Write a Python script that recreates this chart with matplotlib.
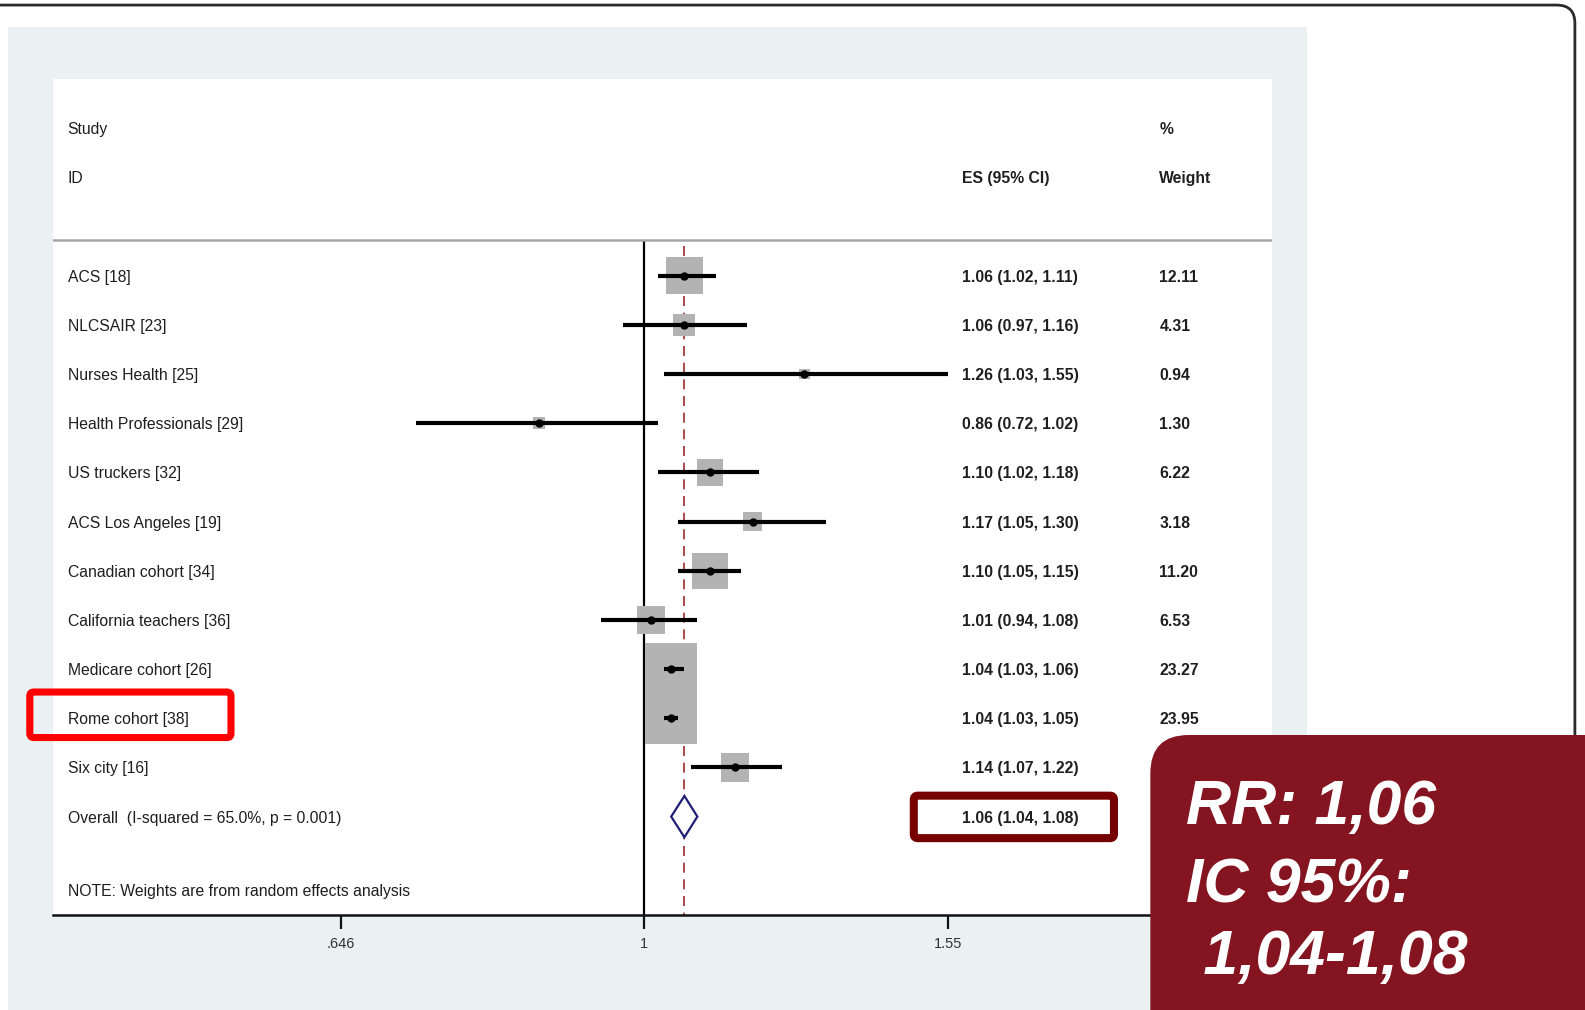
import matplotlib
matplotlib.use('Agg')
import matplotlib.pyplot as plt
import matplotlib.transforms as mtransforms
from matplotlib.patches import FancyBboxPatch, Rectangle, Polygon
import numpy as np

# ---------------- data ----------------
studies = ["ACS [18]", "NLCSAIR [23]", "Nurses Health [25]", "Health Professionals [29]",
           "US truckers [32]", "ACS Los Angeles [19]", "Canadian cohort [34]",
           "California teachers [36]", "Medicare cohort [26]", "Rome cohort [38]", "Six city [16]"]
es = [1.06, 1.06, 1.26, 0.86, 1.10, 1.17, 1.10, 1.01, 1.04, 1.04, 1.14]
ci_low = [1.02, 0.97, 1.03, 0.72, 1.02, 1.05, 1.05, 0.94, 1.03, 1.03, 1.07]
ci_high = [1.11, 1.16, 1.55, 1.02, 1.18, 1.30, 1.15, 1.08, 1.06, 1.05, 1.22]
weights = [12.11, 4.31, 0.94, 1.30, 6.22, 3.18, 11.20, 6.53, 23.27, 23.95, 6.99]
overall_es = 1.06
overall_low = 1.04
overall_high = 1.08
overall_label = "Overall  (I-squared = 65.0%, p = 0.001)"
note_text = "NOTE: Weights are from random effects analysis"
xticks = [0.646, 1, 1.55]
xticklabels = [".646", "1", "1.55"]
callout_lines = ["RR: 1,06", "IC 95%:", " 1,04-1,08"]

FONT = ['Liberation Sans', 'DejaVu Sans']
plt.rcParams['font.family'] = FONT

W, H = 1585, 1010
fig = plt.figure(figsize=(W / 100, H / 100), dpi=100, facecolor='white')

# reference pixel grid (1568 x 999)
RW, RH = 1568, 999

# ---------- background layer ----------
bg = fig.add_axes([0, 0, 1, 1], zorder=0)
bg.set_xlim(0, RW)
bg.set_ylim(RH, 0)
bg.axis('off')
bg.add_patch(Rectangle((8, 27), 1293 - 8, RH - 27 + 10, facecolor='#e9f1f3', edgecolor='none'))
bg.add_patch(FancyBboxPatch((-40, 5), 1558 + 40, 1200,
                            boxstyle='round,pad=0,rounding_size=18',
                            facecolor='none', edgecolor='#2b2b2b', linewidth=2.0))

# ---------- main forest plot ----------
left, right, top, bottom = 52, 1258, 78, 905
ax = fig.add_axes([left / RW, 1 - bottom / RH, (right - left) / RW, (bottom - top) / RH], zorder=1)
ax.set_facecolor('white')
ax.set_xscale('log')
ax.set_xlim(0.4266, 2.470)
ax.set_ylim(13.0, -4.0)

n = len(studies)
rows = np.arange(n)
overall_row = n
note_row = 12.49

# boxes (area proportional to weight)
ax.scatter(es, rows, s=[59.3 * w for w in weights], marker='s', color='#b3b3b3',
           edgecolors='none', zorder=2)
# confidence intervals
ax.hlines(rows, ci_low, ci_high, color='black', linewidth=3.0, zorder=3)
# point estimates
ax.plot(es, rows, 'o', color='black', markersize=5.0, zorder=4)

# reference lines
ax.vlines(1, -0.73, 13.0, color='black', linewidth=1.6, zorder=1)
ax.vlines(overall_es, -0.6, 13.0, color='#9e2a2f', linewidth=1.2,
          linestyles=(0, (6, 4)), zorder=1.5)
ax.axhline(-0.73, color='#a5a5a5', linewidth=1.8, zorder=1)

# overall diamond
dh = 0.42
diamond = Polygon([(overall_low, overall_row), (overall_es, overall_row - dh),
                   (overall_high, overall_row), (overall_es, overall_row + dh)],
                  closed=True, facecolor='white', edgecolor='#1f1f78', linewidth=1.6, zorder=5)
ax.add_patch(diamond)

# text columns
tr = mtransforms.blended_transform_factory(ax.transAxes, ax.transData)
x_lab, x_es, x_w = 0.0124, 0.7463, 0.9080
fs = 11.3
tcol = '#1e1e1e'
va = 'center_baseline'
ax.text(x_lab, -3, "Study", transform=tr, fontsize=fs, va=va, color=tcol)
ax.text(x_lab, -2, "ID", transform=tr, fontsize=fs, va=va, color=tcol)
ax.text(x_es, -2, "ES (95% CI)", transform=tr, fontsize=fs, va=va, color=tcol, fontweight='bold')
ax.text(x_w, -3, "%", transform=tr, fontsize=fs, va=va, color=tcol, fontweight='bold')
ax.text(x_w, -2, "Weight", transform=tr, fontsize=fs, va=va, color=tcol, fontweight='bold')

for i in range(n):
    ax.text(x_lab, rows[i], studies[i], transform=tr, fontsize=fs, va=va, color=tcol)
    ax.text(x_es, rows[i], f"{es[i]:.2f} ({ci_low[i]:.2f}, {ci_high[i]:.2f})", transform=tr,
            fontsize=fs, va=va, color=tcol, fontweight='bold')
    ax.text(x_w, rows[i], f"{weights[i]:.2f}", transform=tr, fontsize=fs, va=va,
            color=tcol, fontweight='bold')

ax.text(x_lab, overall_row, overall_label, transform=tr, fontsize=fs, va=va, color=tcol)
ax.text(x_es, overall_row, f"{overall_es:.2f} ({overall_low:.2f}, {overall_high:.2f})", transform=tr,
        fontsize=fs, va=va, color=tcol, fontweight='bold')
ax.text(x_lab, note_row, note_text, transform=tr, fontsize=fs, va=va, color=tcol)

# axes styling
for sp in ['top', 'left', 'right']:
    ax.spines[sp].set_visible(False)
ax.spines['bottom'].set_linewidth(1.8)
ax.spines['bottom'].set_color('#111111')
ax.set_yticks([])
ax.set_xticks(xticks)
ax.set_xticklabels(xticklabels)
ax.xaxis.set_minor_locator(matplotlib.ticker.NullLocator())
ax.tick_params(axis='x', direction='out', length=10, width=1.6, color='#111111',
               labelsize=10.5, labelcolor='#333333', pad=6)

# ---------- overlay layer ----------
ov = fig.add_axes([0, 0, 1, 1], zorder=3)
ov.set_xlim(0, RW)
ov.set_ylim(RH, 0)
ov.axis('off')
ov.patch.set_alpha(0)

ov.add_patch(FancyBboxPatch((29.5, 684.5), 199, 45, boxstyle='round,pad=0,rounding_size=4',
                            facecolor='none', edgecolor='#ff0000', linewidth=5.1))
ov.add_patch(FancyBboxPatch((904, 787), 198, 42, boxstyle='round,pad=0,rounding_size=4',
                            facecolor='none', edgecolor='#760000', linewidth=5.8))
ov.add_patch(FancyBboxPatch((1138, 727), 700, 500, boxstyle='round,pad=0,rounding_size=38',
                            facecolor='#84141f', edgecolor='none'))
baselines = [815, 893, 963]
for line, yb in zip(callout_lines, baselines):
    ov.text(1173, yb, line, fontsize=45, color='white', fontweight='bold', fontstyle='italic',
            va='baseline', ha='left', family=FONT)

fig.savefig('out.png', dpi=100, facecolor='white')
